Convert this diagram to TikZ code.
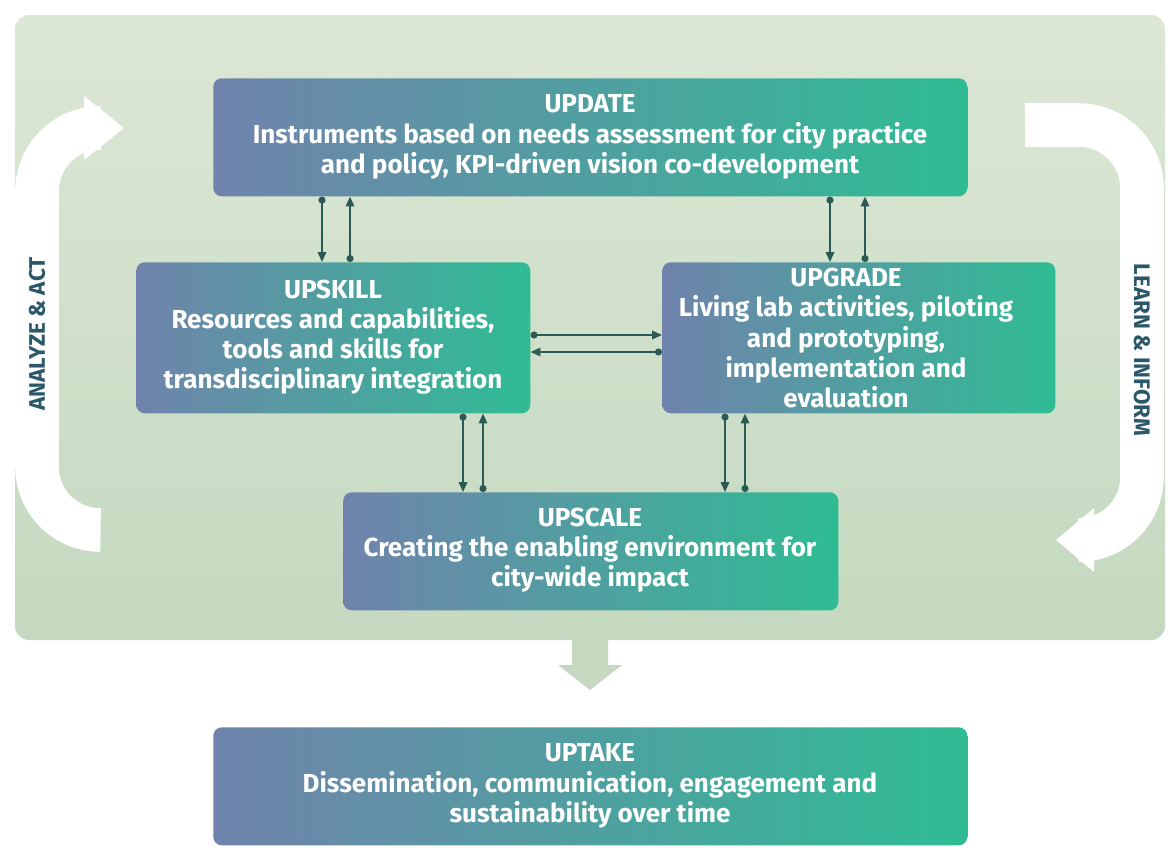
\documentclass[tikz,border=0pt]{standalone}
\usepackage{fontspec}
\setmainfont{Fira Sans}
\usetikzlibrary{arrows.meta}
\definecolor{bgA}{HTML}{DCE7D5}
\definecolor{bgB}{HTML}{C4D9C0}
\definecolor{boxL}{HTML}{7083AC}
\definecolor{boxR}{HTML}{2FBC94}
\definecolor{conn}{HTML}{2B5A55}
\definecolor{lbl}{HTML}{2A5868}
\tikzset{
  stage/.style={rounded corners=6, left color=boxL, right color=boxR, draw=none,
    anchor=north west, inner sep=0pt},
  stagetext/.style={text=white, font=\bfseries\fontsize{18.5}{21.5}\selectfont, align=center},
  dn/.style={conn, line width=1.3pt, {Circle[length=5pt]}-{Triangle[length=7pt,width=6pt]}},
  band/.style={white, line width=31pt},
  looplbl/.style={text=lbl, font=\bfseries\fontsize{16}{18}\selectfont}
}
\begin{document}
\begin{tikzpicture}[x=0.025cm,y=-0.025cm]
\useasboundingbox (0,0) rectangle (1170,856);
\shade[rounded corners=10, top color=bgA, bottom color=bgB] (15,15) rectangle (1165,640);
% down arrow
\fill[bgB] (572,640) -- (608,640) -- (608,665) -- (622,665) -- (590,690) -- (558,665) -- (572,665) -- cycle;
% left loop band
\draw[band, rounded corners=45] (100,530) -- (37,530) -- (37,128) -- (90,128);
\fill[white] (84,96) -- (124,128) -- (84,160) -- cycle;
\node[looplbl, rotate=90] (la) at (37,334) {ANALYZE \& ACT};
% right loop band
\draw[band, rounded corners=45] (1025,125) -- (1142,125) -- (1142,540) -- (1090,540);
\fill[white] (1094,508) -- (1056,540) -- (1094,572) -- cycle;
\node[looplbl, rotate=-90] (lb) at (1142,350) {LEARN \& INFORM};
% boxes
\node[stage, minimum width=754*0.025cm, minimum height=118*0.025cm] (update) at (213,78) {};
\node[stagetext] (updatet) at (590,137) {UPDATE\\Instruments based on needs assessment for city practice\\and policy, KPI-driven vision co-development};
\node[stage, minimum width=394*0.025cm, minimum height=151*0.025cm] (upskill) at (136,262) {};
\node[stagetext] (upskillt) at (333,337) {UPSKILL\\Resources and capabilities,\\tools and skills for\\transdisciplinary integration};
\node[stage, minimum width=393*0.025cm, minimum height=151*0.025cm] (upgrade) at (662,262) {};
\node[stagetext] (upgradet) at (846,338) {UPGRADE\\Living lab activities, piloting\\and prototyping,\\implementation and\\evaluation};
\node[stage, minimum width=495*0.025cm, minimum height=118*0.025cm] (upscale) at (343,492) {};
\node[stagetext] (upscalet) at (590,550) {UPSCALE\\Creating the enabling environment for\\city-wide impact};
\node[stage, minimum width=754*0.025cm, minimum height=118*0.025cm] (uptake) at (213,727) {};
\node[stagetext] (uptaket) at (590,786) {UPTAKE\\Dissemination, communication, engagement and\\sustainability over time};
% connectors
\draw[dn] (update.south -| 322,0) -- (upskill.north -| 322,0);
\draw[dn] (upskill.north -| 350,0) -- (update.south -| 350,0);
\draw[dn] (update.south -| 830,0) -- (upgrade.north -| 830,0);
\draw[dn] (upgrade.north -| 865,0) -- (update.south -| 865,0);
\draw[dn] (upskill.east |- 0,335) -- (upgrade.west |- 0,335);
\draw[dn] (upgrade.west |- 0,352) -- (upskill.east |- 0,352);
\draw[dn] (upskill.south -| 463,0) -- (upscale.north -| 463,0);
\draw[dn] (upscale.north -| 483,0) -- (upskill.south -| 483,0);
\draw[dn] (upgrade.south -| 725,0) -- (upscale.north -| 725,0);
\draw[dn] (upscale.north -| 745,0) -- (upgrade.south -| 745,0);
\end{tikzpicture}
\end{document}
